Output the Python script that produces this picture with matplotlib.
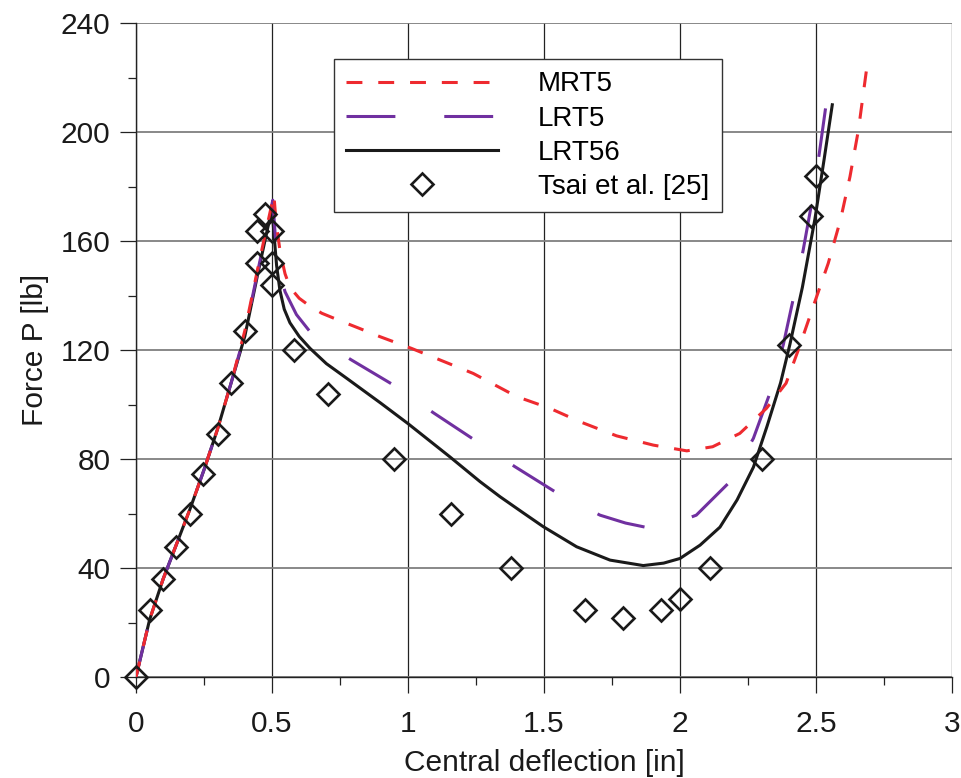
import matplotlib
matplotlib.use("Agg")
import matplotlib.pyplot as plt
from matplotlib.ticker import MultipleLocator

plt.rcParams["font.family"] = ["Liberation Sans", "DejaVu Sans"]

# MRT5 (red short dashes)
mrt5_x = [0, 0.05, 0.1, 0.15, 0.2, 0.25, 0.3, 0.35, 0.4, 0.45, 0.507,
          0.515, 0.53, 0.548, 0.566, 0.6, 0.634, 0.683, 0.744, 0.82, 0.897,
          1.013, 1.24, 1.4, 1.522, 1.632, 1.767, 1.902, 2.025, 2.12, 2.22,
          2.318, 2.39, 2.435, 2.49, 2.545, 2.59, 2.625, 2.656, 2.69]
mrt5_y = [0, 21, 36, 49, 62, 76, 91, 108, 127, 151, 177,
          167, 156, 148, 143, 139, 136.5, 133.5, 131, 128, 124.9,
          120.6, 111.4, 102.9, 98.6, 93.7, 88.5, 85.1, 83, 84.5, 89.4,
          98.6, 107.8, 120, 136, 151.8, 167.7, 183.6, 200.7, 226]

# LRT5 (purple long dashes)
lrt5_x = [0, 0.05, 0.1, 0.15, 0.2, 0.25, 0.3, 0.35, 0.4, 0.45, 0.503,
          0.512, 0.525, 0.548, 0.59, 0.64, 0.7, 0.793, 0.946, 1.093, 1.24,
          1.393, 1.547, 1.706, 1.8, 1.877, 1.97, 2.06, 2.18, 2.27, 2.33,
          2.38, 2.417, 2.453, 2.484, 2.512, 2.537]
lrt5_y = [0, 21, 36, 49, 62, 76, 91, 108, 126, 150, 175,
          162, 150, 141.4, 133, 126.7, 122, 116.3, 107.2, 97, 87.3,
          77.2, 67.6, 59.4, 56.5, 54.9, 56, 59.4, 71.3, 87.6, 104,
          122, 139, 156.7, 173.8, 192, 210]

# LRT56 (black solid)
lrt56_x = [0, 0.05, 0.1, 0.15, 0.2, 0.25, 0.3, 0.35, 0.4, 0.45, 0.5,
           0.507, 0.517, 0.529, 0.545, 0.566, 0.6, 0.64, 0.7, 0.775, 0.9,
           1.0, 1.154, 1.265, 1.338, 1.42, 1.497, 1.62, 1.743, 1.865, 1.94,
           2.0, 2.074, 2.147, 2.21, 2.27, 2.32, 2.37, 2.404, 2.45, 2.496,
           2.53, 2.56]
lrt56_y = [0, 21, 36, 49, 62, 76, 91, 108, 125, 149, 172,
           163, 151, 142, 135, 130, 125, 120.6, 115, 109.6, 100.5,
           93, 80.8, 71.7, 66.2, 60.5, 55.2, 47.8, 42.9, 40.9, 41.8,
           43.5, 48.4, 55, 65, 77, 92, 108, 122, 143, 168,
           190, 210]

# Tsai et al. [25] experiment
tsai_x = [0, 0.05, 0.1, 0.147, 0.2, 0.246, 0.3, 0.35, 0.4, 0.445, 0.445,
          0.474, 0.5, 0.5, 0.5, 0.58, 0.706, 0.95, 1.158, 1.38, 1.65,
          1.79, 1.93, 2.0, 2.11, 2.30, 2.4, 2.48, 2.5]
tsai_y = [0, 24.6, 36, 47.7, 60, 74.5, 89, 108, 127, 152, 163.7,
          170, 163.7, 152, 144, 120, 104, 80, 60, 40, 24.6,
          21.6, 24.6, 28.6, 40, 80, 121.8, 169, 184]

fig = plt.figure(figsize=(9.61, 7.78), dpi=100)
ax = fig.add_axes([0.1415, 0.1298, 0.8491, 0.8406])

red = "#EE2A2F"
purple = "#7030A0"

# black first so the dashed curves show on top along the shared rising branch
l3, = ax.plot(lrt56_x, lrt56_y, color="#1a1a1a", lw=2.2, label="LRT56", zorder=3)
l2, = ax.plot(lrt5_x, lrt5_y, color=purple, lw=2.2, dashes=(16, 16), label="LRT5", zorder=3)
l1, = ax.plot(mrt5_x, mrt5_y, color=red, lw=2.2, dashes=(5.2, 5.2), label="MRT5", zorder=3)
l4, = ax.plot(tsai_x, tsai_y, ls="none", marker="D", ms=11.5, mfc="none",
              mec="#1a1a1a", mew=1.9, label="Tsai et al. [25]", zorder=4, clip_on=False)

ax.set_xlim(0, 3)
ax.set_ylim(0, 240)
ax.xaxis.set_major_locator(MultipleLocator(0.5))
ax.xaxis.set_minor_locator(MultipleLocator(0.25))
ax.yaxis.set_major_locator(MultipleLocator(40))
ax.yaxis.set_minor_locator(MultipleLocator(20))
ax.set_xticks([0, 0.5, 1, 1.5, 2, 2.5, 3])
ax.set_xticklabels(["0", "0.5", "1", "1.5", "2", "2.5", "3"])

ax.grid(True, axis="y", which="major", color="#7f7f7f", lw=1.3, zorder=1)
ax.grid(True, axis="x", which="major", color="#222222", lw=0.9, zorder=1)
ax.set_axisbelow(True)

for s in ["top", "right"]:
    ax.spines[s].set_visible(False)
for s in ["left", "bottom"]:
    ax.spines[s].set_color("#222222")
    ax.spines[s].set_linewidth(1.0)

ax.tick_params(axis="both", which="major", direction="out", length=11.5,
               width=0.9, color="#222222", labelsize=21.5, labelcolor="#1a1a1a")
ax.tick_params(axis="both", which="minor", direction="out", length=5.8,
               width=0.9, color="#222222")
ax.tick_params(axis="x", which="major", pad=12)
ax.tick_params(axis="y", which="major", pad=7)

ax.set_xlabel("Central deflection [in]", fontsize=21.5, color="#1a1a1a", labelpad=8)
ax.set_ylabel("Force P [lb]", fontsize=21.5, color="#1a1a1a", labelpad=8)

leg = ax.legend(handles=[l1, l2, l3, l4], loc="upper left",
                bbox_to_anchor=(0.2426, 0.945), borderaxespad=0,
                fontsize=20, handlelength=5.45, handletextpad=1.45,
                labelspacing=0.29, borderpad=0.45, fancybox=False,
                framealpha=1, edgecolor="#333333")
leg.get_frame().set_linewidth(1.0)

fig.savefig("out.png", dpi=100)
